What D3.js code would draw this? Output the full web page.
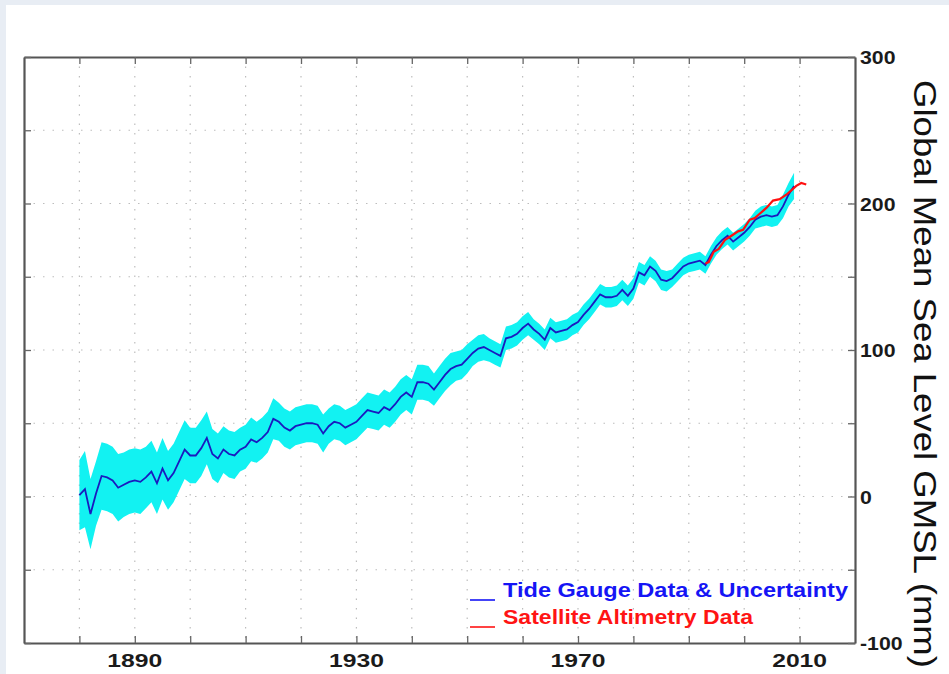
<!DOCTYPE html>
<html><head><meta charset="utf-8">
<script src="https://cdn.jsdelivr.net/npm/d3@7"></script>
<style>body{margin:0;background:#fff}svg{display:block}</style>
</head><body>
<svg id="c" width="949" height="674"></svg>
<script>
// ---- data (mm) ----
const tgStartYear = 1880;
const tideGauge = [
  1, 5, -12, 2, 14, 13, 11, 6, 8, 10,
  11, 10, 13, 17, 9, 19, 11, 16, 24, 32,
  28, 28, 33, 40, 29, 26, 32, 29, 28, 32,
  34, 39, 37, 40, 44, 53, 51, 47, 45, 48,
  49, 50, 50, 49, 43, 48, 51, 50, 47, 49,
  51, 55, 59, 58, 57, 61, 59, 63, 68, 71,
  68, 78, 78, 77, 73, 78, 83, 87, 89, 90,
  94, 98, 101, 102, 100, 98, 96, 108, 109, 111,
  115, 118, 114, 111, 107, 115, 112, 113, 114, 117,
  119, 124, 128, 133, 138, 136, 136, 137, 141, 137,
  142, 153, 151, 157, 154, 148, 147, 149, 153, 157,
  159, 160, 161, 158, 165, 171, 175, 178, 174, 177,
  180, 184, 189, 191, 192, 191, 192, 198, 206, 212
];
const tideUncertainty = [
  24, 26, 24, 22, 23, 23, 23, 23, 22, 22,
  22, 22, 21, 21, 21, 21, 20, 20, 20, 20,
  19, 19, 19, 18, 17, 17, 16, 16, 16, 15,
  15, 15, 14, 14, 14, 14, 13, 13, 13, 13,
  13, 13, 13, 13, 13, 12, 12, 12, 12, 12,
  12, 12, 12, 12, 12, 12, 12, 12, 12, 12,
  12, 12, 12, 12, 11, 11, 11, 11, 10, 10,
  10, 9, 9, 9, 8, 8, 8, 8, 8, 8,
  8, 8, 7, 7, 7, 7, 7, 7, 7, 7,
  7, 7, 7, 7, 7, 7, 7, 7, 7, 7,
  7, 7, 7, 7, 7, 7, 7, 6, 6, 6,
  6, 6, 6, 6, 6, 6, 6, 6, 6, 6,
  6, 6, 6, 7, 7, 7, 7, 8, 8, 9
];
const satYears = [1993.0, 1993.6, 1994.5, 1995.4, 1996.5, 1997.7, 1998.9, 1999.8, 2001.0, 2001.9,
                  2002.8, 2004.0, 2005.2, 2006.4, 2007.6, 2008.5, 2009.4, 2010.3, 2011.2];
const satellite = [159, 160, 167, 169, 175, 178, 181, 182, 189, 190,
                   193, 197, 202, 203, 206, 209, 212, 214, 213];

const xTicks = [1880, 1890, 1900, 1910, 1920, 1930, 1940, 1950, 1960, 1970, 1980, 1990, 2000, 2010];
const xTickLabels = [1890, 1930, 1970, 2010];
const yTicks = [-100, -50, 0, 50, 100, 150, 200, 250, 300];
const yTickLabels = [-100, 0, 100, 200, 300];
const legendItems = ["Tide Gauge Data & Uncertainty", "Satellite Altimetry Data"];
const yTitle = "Global Mean Sea Level GMSL (mm)";

// ---- layout ----
const W = 949, H = 674;
const L = 24, R = 855, T = 57, B = 643;
const svg = d3.select("#c");

svg.append("rect").attr("width", W).attr("height", H).attr("fill", "#e8edf4");
svg.append("rect").attr("x", 6).attr("y", 5).attr("width", W - 6).attr("height", H - 5).attr("fill", "#ffffff");

const x = d3.scaleLinear().domain([1870, 2020]).range([L, R]);
const y = d3.scaleLinear().domain([-100, 300]).range([B, T]);

// grid
const grid = svg.append("g").attr("stroke", "#bdbdbd").attr("stroke-width", 1.2).attr("stroke-dasharray", "1.5,8");
grid.selectAll("line.v").data(xTicks).join("line").attr("class", "v")
  .attr("x1", d => x(d)).attr("x2", d => x(d)).attr("y1", T).attr("y2", B);
grid.selectAll("line.h").data(yTicks.slice(1, -1)).join("line").attr("class", "h")
  .attr("x1", L).attr("x2", R).attr("y1", d => y(d)).attr("y2", d => y(d));

// data
const tg = tideGauge.map((v, i) => ({year: tgStartYear + i, v, u: tideUncertainty[i]}));
const sat = satellite.map((v, i) => ({year: satYears[i], v}));

svg.append("path").datum(tg)
  .attr("fill", "#12f2f2")
  .attr("d", d3.area().x(d => x(d.year)).y0(d => y(d.v - d.u)).y1(d => y(d.v + d.u)));

svg.append("path").datum(tg)
  .attr("fill", "none").attr("stroke", "#1a1abf").attr("stroke-width", 1.8)
  .attr("d", d3.line().x(d => x(d.year)).y(d => y(d.v)));

svg.append("path").datum(sat)
  .attr("fill", "none").attr("stroke", "#ff1010").attr("stroke-width", 2.2)
  .attr("d", d3.line().x(d => x(d.year)).y(d => y(d.v)));

// axes box
const axB = svg.append("g").attr("transform", `translate(0,${B})`)
  .call(d3.axisBottom(x).tickValues(xTicks).tickSizeInner(-7).tickSizeOuter(0).tickFormat(""));
const axT = svg.append("g").attr("transform", `translate(0,${T})`)
  .call(d3.axisTop(x).tickValues(xTicks).tickSizeInner(-7).tickSizeOuter(0).tickFormat(""));
const axL = svg.append("g").attr("transform", `translate(${L},0)`)
  .call(d3.axisLeft(y).tickValues(yTicks).tickSizeInner(-7).tickSizeOuter(0).tickFormat(""));
const axR = svg.append("g").attr("transform", `translate(${R},0)`)
  .call(d3.axisRight(y).tickValues(yTicks).tickSizeInner(-7).tickSizeOuter(0).tickFormat(""));
[axB, axT, axL, axR].forEach(a => {
  a.select(".domain").attr("stroke", "#555").attr("stroke-width", 2.2);
  a.selectAll(".tick line").attr("stroke", "#666").attr("stroke-width", 1.3);
});

// tick labels
const lblFont = "'Liberation Sans', Arial, sans-serif";
svg.append("g").selectAll("text").data(xTickLabels).join("text")
  .attr("transform", d => `translate(${x(d)},${B + 24}) scale(1.3,1)`)
  .attr("text-anchor", "middle").attr("font-family", lblFont).attr("font-weight", "bold")
  .attr("font-size", 19).attr("fill", "#1a1a1a").text(d => d);
svg.append("g").selectAll("text").data(yTickLabels).join("text")
  .attr("transform", d => `translate(${R + 5},${y(d) + 7}) scale(1.12,1)`)
  .attr("text-anchor", "start").attr("font-family", lblFont).attr("font-weight", "bold")
  .attr("font-size", 19).attr("fill", "#1a1a1a").text(d => d);

// y title
svg.append("text")
  .attr("transform", `translate(914,374) rotate(90)`)
  .attr("text-anchor", "middle").attr("font-family", lblFont)
  .attr("font-size", 31).attr("fill", "#111")
  .attr("textLength", 588).attr("lengthAdjust", "spacingAndGlyphs")
  .text(yTitle);

// legend
const legColors = ["#1515f5", "#ff1414"];
const legLen = [345, 250];
const leg = svg.append("g");
legendItems.forEach((t, i) => {
  const by = 597 + i * 27;
  leg.append("line").attr("x1", 470).attr("x2", 495).attr("y1", by + 3).attr("y2", by + 3)
    .attr("stroke", legColors[i]).attr("stroke-width", 1.6);
  leg.append("text").attr("x", 503).attr("y", by)
    .attr("font-family", lblFont).attr("font-weight", "bold").attr("font-size", 19.5)
    .attr("fill", legColors[i])
    .attr("textLength", legLen[i]).attr("lengthAdjust", "spacingAndGlyphs")
    .text(t);
});
</script>
</body></html>
